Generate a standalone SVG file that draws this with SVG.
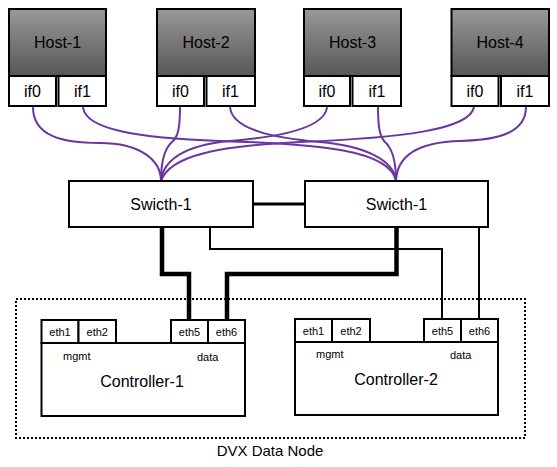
<svg xmlns="http://www.w3.org/2000/svg" width="557" height="467" viewBox="0 0 557 467">
<defs>
<linearGradient id="hostGrad" x1="0" y1="0" x2="0" y2="1">
<stop offset="0" stop-color="#989898"/>
<stop offset="1" stop-color="#575757"/>
</linearGradient>
<style>
.box{fill:#fff;stroke:#000;stroke-width:2}
.host{fill:url(#hostGrad);stroke:#000;stroke-width:2}
text{font-family:"Liberation Sans",Arial,sans-serif;fill:#000;text-anchor:middle}
.big{font-size:16px}
.small{font-size:11px}
.lbl{font-size:11px;text-anchor:start}
.curve{fill:none;stroke:#6a35a0;stroke-width:2}
.thick{fill:none;stroke:#000;stroke-width:4.5}
.thin{fill:none;stroke:#000;stroke-width:2}
.dvx{fill:none;stroke:#000;stroke-width:2;stroke-dasharray:2 2}
</style>
</defs>
<rect width="557" height="467" fill="#fff"/>

<g id="connectors">
<path class="curve" d="M33,107 C33,136 62,143 100,143 C140,143 161,160 161,181"/>
<path class="curve" d="M180,107 C180,128 178,137 172,142 C164,149 161,165 161,181"/>
<path class="curve" d="M83,107 C85,130 140,138 220,141 C320,144 390,150 396,181"/>
<path class="curve" d="M230,107 C232,130 275,138 320,142 C365,146 394,160 396,181"/>
<path class="curve" d="M327,107 C325,128 280,137 230,141 C185,145 163,160 161,181"/>
<path class="curve" d="M474,107 C470,130 400,138 300,142 C220,146 170,155 161,181"/>
<path class="curve" d="M378,107 C378,128 380,137 385,142 C393,149 396,165 396,181"/>
<path class="curve" d="M526,107 C526,132 500,140 460,141 C420,142 397,155 396,181"/>
<path class="thick" style="stroke-width:3" d="M253,204 H305"/>
<path class="thick" d="M162,228 V274 H189 V320"/>
<path class="thick" d="M227,320 V274 H396.5 V228"/>
<path class="thin" d="M210,228 V249 H442 V320"/>
<path class="thin" d="M479,228 V320"/>
</g>

<g id="dvx-data-node">
<rect class="dvx" x="16" y="299" width="509" height="139"/>
<text class="big" style="font-size:15px" x="270" y="456">DVX Data Node</text>
</g>

<g id="host-1">
<rect class="host" x="9" y="9" width="97" height="67"/>
<text class="big" x="57.5" y="48">Host-1</text>
<rect class="box" x="9" y="76" width="47" height="30"/>
<text class="big" x="32.5" y="97">if0</text>
<rect class="box" x="58.5" y="76" width="47.5" height="30"/>
<text class="big" x="82.5" y="97">if1</text>
</g>

<g id="host-2">
<rect class="host" x="157" y="9" width="98" height="67"/>
<text class="big" x="206" y="48">Host-2</text>
<rect class="box" x="157" y="76" width="47" height="30"/>
<text class="big" x="180.5" y="97">if0</text>
<rect class="box" x="206.5" y="76" width="48.5" height="30"/>
<text class="big" x="230.5" y="97">if1</text>
</g>

<g id="host-3">
<rect class="host" x="304" y="9" width="97" height="67"/>
<text class="big" x="352.5" y="48">Host-3</text>
<rect class="box" x="304" y="76" width="46" height="30"/>
<text class="big" x="327" y="97">if0</text>
<rect class="box" x="352.5" y="76" width="48.5" height="30"/>
<text class="big" x="377" y="97">if1</text>
</g>

<g id="host-4">
<rect class="host" x="451.5" y="9" width="97.5" height="67"/>
<text class="big" x="500" y="48">Host-4</text>
<rect class="box" x="451.5" y="76" width="47" height="30"/>
<text class="big" x="475" y="97">if0</text>
<rect class="box" x="501" y="76" width="48" height="30"/>
<text class="big" x="525" y="97">if1</text>
</g>

<g id="switch-1-left">
<rect class="box" x="69" y="181" width="184" height="46"/>
<text class="big" x="161" y="210">Swicth-1</text>
</g>

<g id="switch-1-right">
<rect class="box" x="305" y="181" width="183" height="46"/>
<text class="big" x="396.5" y="210">Swicth-1</text>
</g>

<g id="controller-1">
<rect class="box" x="41.5" y="343" width="203.5" height="73"/>
<rect class="box" x="41.5" y="320" width="37" height="23"/>
<text class="small" x="60" y="336">eth1</text>
<rect class="box" x="78.5" y="320" width="37.5" height="23"/>
<text class="small" x="97.3" y="336">eth2</text>
<rect class="box" x="171" y="320" width="37" height="23"/>
<text class="small" x="189.5" y="336">eth5</text>
<rect class="box" x="208" y="320" width="37" height="23"/>
<text class="small" x="226.5" y="336">eth6</text>
<text class="lbl" x="63" y="360">mgmt</text>
<text class="lbl" x="197" y="361">data</text>
<text class="big" x="142" y="387">Controller-1</text>
</g>

<g id="controller-2">
<rect class="box" x="295" y="342" width="203" height="73"/>
<rect class="box" x="295" y="319" width="37" height="23"/>
<text class="small" x="313.5" y="335">eth1</text>
<rect class="box" x="332" y="319" width="38" height="23"/>
<text class="small" x="351" y="335">eth2</text>
<rect class="box" x="424" y="319" width="37" height="23"/>
<text class="small" x="442.5" y="335">eth5</text>
<rect class="box" x="461" y="319" width="37" height="23"/>
<text class="small" x="479.5" y="335">eth6</text>
<text class="lbl" x="316" y="358">mgmt</text>
<text class="lbl" x="450" y="359">data</text>
<text class="big" x="396" y="385">Controller-2</text>
</g>
</svg>
